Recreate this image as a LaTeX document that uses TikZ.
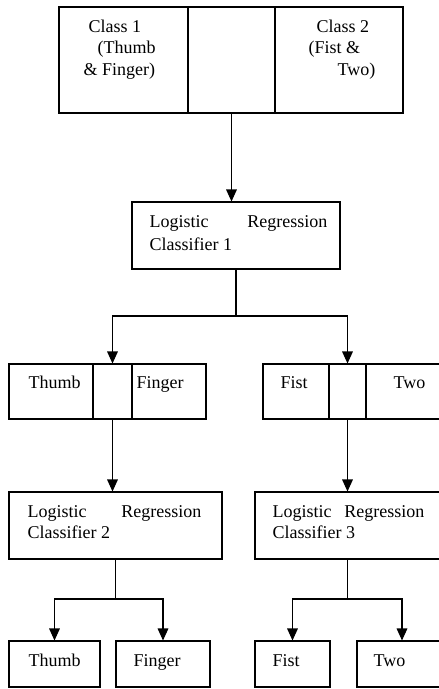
\documentclass[tikz,border=0pt]{standalone}
\usepackage{fontspec}
\setmainfont{Liberation Serif}
\usetikzlibrary{arrows.meta,fit}
\begin{document}
\begin{tikzpicture}[x=0.75pt,y=-0.75pt,line width=0.8pt,
  cell/.style={draw,inner sep=0pt,fit={#1}},
  lbl/.style={inner sep=0pt,anchor=base west,font=\fontsize{13.5}{15}\selectfont},
  lblr/.style={lbl,anchor=base east},
  arr/.style={-{Triangle[width=8pt,length=9pt]}}]
\clip (0,0) rectangle (439,689);
% top box
\node[cell={(59,7)(188,113)}] (t1) {};
\node[cell={(188,7)(275,113)}] (t2) {};
\node[cell={(275,7)(403,113)}] (t3) {};
\node[lbl] (t1a) at (88,32) {Class 1};
\node[lbl] (t1b) at (97,53) {(Thumb};
\node[lbl] (t1c) at (83,75) {\& Finger)};
\node[lbl] (t3a) at (316,32) {Class 2};
\node[lbl] (t3b) at (308,53) {(Fist \&};
\node[lbl] (t3c) at (337,75) {Two)};
% classifier 1
\node[cell={(132,202)(340,269)}] (lr1) {};
\node[lbl] (lr1a) at (149,227) {Logistic};
\node[lblr] (lr1b) at (328,227) {Regression};
\node[lbl] (lr1c) at (149,250) {Classifier 1};
% row 2
\node[cell={(9,364)(93,419)}] (a1) {};
\node[cell={(93,364)(132,419)}] (a2) {};
\node[cell={(132,364)(206,419)}] (a3) {};
\node[cell={(263,364)(329,419)}] (b1) {};
\node[cell={(329,364)(366,419)}] (b2) {};
\node[cell={(366,364)(447,419)}] (b3) {};
\node[lbl] (a1t) at (28,388) {Thumb};
\node[lbl] (a3t) at (136,388) {Finger};
\node[lbl] (b1t) at (280,388) {Fist};
\node[lbl] (b3t) at (393,388) {Two};
% classifiers 2 and 3
\node[cell={(9,492)(222,559)}] (lr2) {};
\node[lbl] (lr2a) at (27,517) {Logistic};
\node[lblr] (lr2b) at (202,517) {Regression};
\node[lbl] (lr2c) at (27,538) {Classifier 2};
\node[cell={(255,492)(447,559)}] (lr3) {};
\node[lbl] (lr3a) at (272,517) {Logistic};
\node[lblr] (lr3b) at (425,517) {Regression};
\node[lbl] (lr3c) at (272,538) {Classifier 3};
% bottom row
\node[cell={(9,641)(100,687)}] (c1) {};
\node[cell={(116,641)(210,687)}] (c2) {};
\node[cell={(255,641)(330,687)}] (d1) {};
\node[cell={(357,641)(447,687)}] (d2) {};
\node[lbl] (c1t) at (28,666) {Thumb};
\node[lbl] (c2t) at (133,666) {Finger};
\node[lbl] (d1t) at (272,666) {Fist};
\node[lbl] (d2t) at (373,666) {Two};
% connectors
\draw[arr] (t2.south) -- (t2.south |- lr1.north);
\coordinate (j1) at (lr1.south |- 0,316);
\draw (lr1.south) -- (j1);
\draw[arr] (j1) -| (a2.north);
\draw[arr] (j1) -| (b2.north);
\draw[arr] (a2.south) -- (a2.south |- lr2.north);
\draw[arr] (b2.south) -- (b2.south |- lr3.north);
\coordinate (j2) at (lr2.south |- 0,599);
\draw (lr2.south) -- (j2);
\draw[arr] (j2) -| (c1.north);
\draw[arr] (j2) -| (c2.north);
\coordinate (j3) at (b2.south |- 0,599);
\draw (b2.south |- lr3.south) -- (j3);
\draw[arr] (j3) -| (d1.north);
\draw[arr] (j3) -| (d2.north);
\end{tikzpicture}
\end{document}
